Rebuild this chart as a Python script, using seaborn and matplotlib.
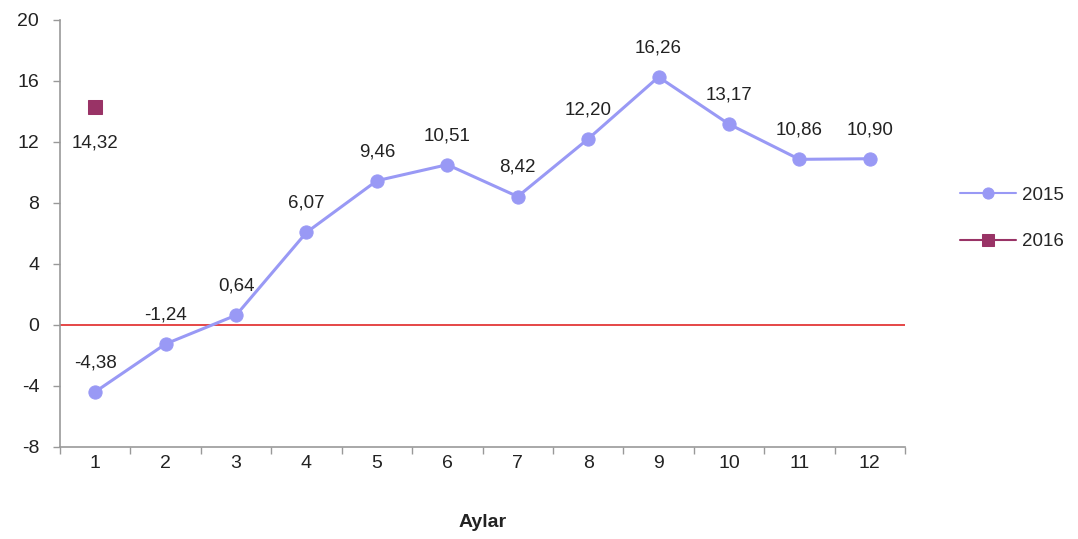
import numpy as np
import pandas as pd
import matplotlib
matplotlib.use('Agg')
import matplotlib.pyplot as plt
import seaborn as sns

# data
months = [1, 2, 3, 4, 5, 6, 7, 8, 9, 10, 11, 12]
values_2015 = [-4.38, -1.24, 0.64, 6.07, 9.46, 10.51, 8.42, 12.20, 16.26, 13.17, 10.86, 10.90]
months_2016 = [1]
values_2016 = [14.32]

color_2015 = '#9999F5'
color_2016 = '#993366'

sns.set_theme(style='white')
plt.rcParams['font.family'] = ['Liberation Sans', 'DejaVu Sans']
plt.rcParams['axes.unicode_minus'] = False

df15 = pd.DataFrame({'ay': months, 'deger': values_2015})
df16 = pd.DataFrame({'ay': months_2016, 'deger': values_2016})

fig = plt.figure(figsize=(10.78, 5.39), dpi=100)
ax = fig.add_axes([0.0557, 0.1707, 0.7838, 0.7923])

ax.axhline(0, color='#E02828', linewidth=1.2, zorder=1)

sns.lineplot(data=df15, x='ay', y='deger', ax=ax, color=color_2015, linewidth=2.2,
             marker='o', markersize=9.5, markeredgecolor=color_2015, label='2015', zorder=3)
sns.lineplot(data=df16, x='ay', y='deger', ax=ax, color=color_2016, linewidth=2.2,
             marker='s', markersize=9.5, markeredgecolor=color_2016, label='2016', zorder=3)

def fmt(v):
    return ('%.2f' % v).replace('.', ',')

for m, v in zip(months, values_2015):
    ax.annotate(fmt(v), (m, v), xytext=(0, 21), textcoords='offset points',
                ha='center', va='center', fontsize=13.5, color='#222222')
for m, v in zip(months_2016, values_2016):
    ax.annotate(fmt(v), (m, v), xytext=(0, -26), textcoords='offset points',
                ha='center', va='center', fontsize=13.5, color='#222222')

ax.set_xlim(0.5, 12.5)
ax.set_ylim(-8, 20)
ax.set_yticks(np.arange(-8, 21, 4))
ax.set_xticks(months)
ax.set_xticks(np.arange(0.5, 12.6, 1), minor=True)
ax.tick_params(axis='x', which='major', bottom=True, length=0, pad=6, labelsize=14, colors='#222222')
ax.tick_params(axis='x', which='minor', bottom=True, length=5, width=1, color='#999999', direction='out')
ax.tick_params(axis='y', left=True, length=5, width=1, color='#999999', direction='out',
               labelsize=14, labelcolor='#222222', pad=10)

for side in ['top', 'right']:
    ax.spines[side].set_visible(False)
for side in ['left', 'bottom']:
    ax.spines[side].set_color('#999999')
    ax.spines[side].set_linewidth(1.2)

ax.set_xlabel('Aylar', fontsize=14, fontweight='bold', color='#222222', labelpad=30)
ax.set_ylabel('')

leg = ax.legend(loc='center left', bbox_to_anchor=(1.045, 0.535), frameon=False,
                fontsize=13.5, handlelength=3.0, handletextpad=0.3, labelspacing=1.55)
for h in leg.legend_handles:
    h.set_linewidth(1.5)
    h.set_markersize(8)

fig.savefig('out.png', dpi=100)
